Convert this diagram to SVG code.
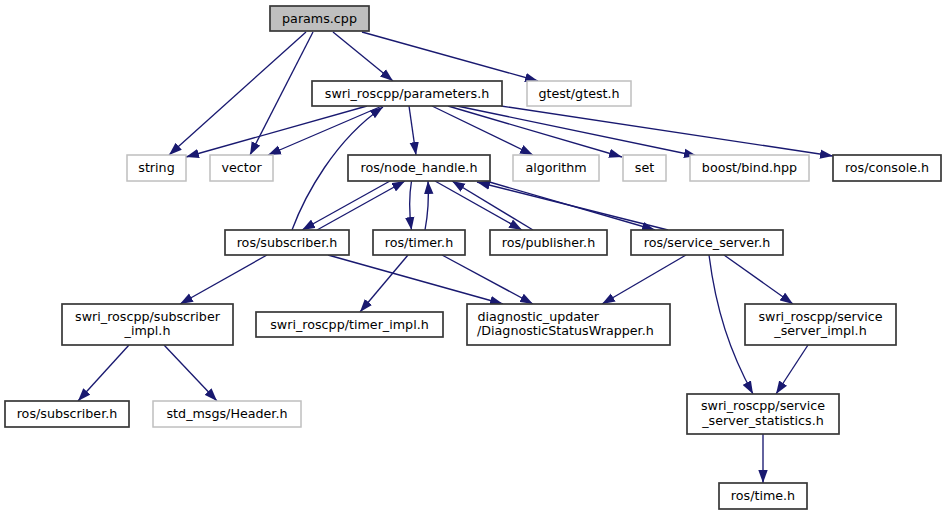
<svg xmlns="http://www.w3.org/2000/svg" width="947" height="515" viewBox="0 0 947 515">
<style>
.n rect{fill:#fff;stroke:#383838;stroke-width:1.7}
.g rect{fill:#fff;stroke:#bfbfbf;stroke-width:1.5}
.r rect{fill:#bfbfbf;stroke:#383838;stroke-width:1.7}
text{font-family:"DejaVu Sans","Liberation Sans",sans-serif;font-size:12.7px;fill:#000;text-anchor:middle}
.e path{fill:none;stroke:#191970;stroke-width:1.35;marker-end:url(#a)}
</style>
<defs>
<marker id="a" markerUnits="userSpaceOnUse" markerWidth="13" markerHeight="10" viewBox="0 0 13 10" refX="13" refY="5" orient="auto">
<path d="M0,0.3 L13,5 L0,9.7 z" fill="#191970"/>
</marker>
</defs>
<rect width="947" height="515" fill="#fff"/>
<g class="e" id="edges">
<path d="M306,32 L169,155"/>
<path d="M313,32 L250,155"/>
<path d="M333,32 L393,81"/>
<path d="M362,32 L538,81"/>
<path d="M367,106 L186,157"/>
<path d="M382,106 L268,155"/>
<path d="M292,230 C305,195 335,140 383,107"/>
<path d="M409,106 L416,155"/>
<path d="M432,106 L533,155"/>
<path d="M448,106 L622,157"/>
<path d="M457,106 L697,156"/>
<path d="M501,106 L833,156"/>
<path d="M390,181 L302,230"/>
<path d="M317,230 L405,181"/>
<path d="M411.5,181 C409,196 409,212 411.5,230"/>
<path d="M425,230 C428,214 429,198 428,181"/>
<path d="M435,181 L522,230"/>
<path d="M533,230 L452,181"/>
<path d="M486,181 L655,230"/>
<path d="M668,230 L477,182"/>
<path d="M267,255 L180,304"/>
<path d="M328,255 L503,304"/>
<path d="M408,255 L360,312"/>
<path d="M442,255 L533,304"/>
<path d="M686,255 L602,304"/>
<path d="M709,255 C716,310 730,352 753,394"/>
<path d="M724,255 L793,304"/>
<path d="M808,345 L776,394"/>
<path d="M763,434 L763,483"/>
<path d="M129,345 L78,401"/>
<path d="M164,345 L217,401"/>
</g>
<g id="params_cpp" class="r"><rect x="270" y="6" width="99" height="25"/><text x="319.5" y="22.5">params.cpp</text></g>
<g id="parameters_h" class="n"><rect x="312" y="81" width="190" height="25"/><text x="407" y="97.5">swri_roscpp/parameters.h</text></g>
<g id="gtest_h" class="g"><rect x="527" y="81" width="104" height="25"/><text x="579" y="97.5">gtest/gtest.h</text></g>
<g id="string" class="g"><rect x="127" y="155" width="59" height="26"/><text x="156.5" y="171.5">string</text></g>
<g id="vector" class="g"><rect x="210" y="155" width="63" height="26"/><text x="241.5" y="171.5">vector</text></g>
<g id="node_handle_h" class="n"><rect x="348" y="155" width="142" height="26"/><text x="419" y="171.5">ros/node_handle.h</text></g>
<g id="algorithm" class="g"><rect x="513" y="155" width="86" height="26"/><text x="556" y="171.5">algorithm</text></g>
<g id="set" class="g"><rect x="623" y="155" width="43" height="26"/><text x="644.5" y="171.5">set</text></g>
<g id="bind_hpp" class="g"><rect x="690" y="155" width="119" height="26"/><text x="749.5" y="171.5">boost/bind.hpp</text></g>
<g id="console_h" class="n"><rect x="833" y="155" width="108" height="26"/><text x="887" y="171.5">ros/console.h</text></g>
<g id="subscriber_h" class="n"><rect x="225" y="230" width="124" height="25"/><text x="287" y="246.5">ros/subscriber.h</text></g>
<g id="timer_h" class="n"><rect x="373" y="230" width="92" height="25"/><text x="419" y="246.5">ros/timer.h</text></g>
<g id="publisher_h" class="n"><rect x="490" y="230" width="117" height="25"/><text x="548.5" y="246.5">ros/publisher.h</text></g>
<g id="service_server_h" class="n"><rect x="631" y="230" width="152" height="25"/><text x="707" y="246.5">ros/service_server.h</text></g>
<g id="subscriber_impl_h" class="n"><rect x="62" y="304" width="171" height="41"/><text x="147.5" y="320.5">swri_roscpp/subscriber</text><text x="147.5" y="335">_impl.h</text></g>
<g id="timer_impl_h" class="n"><rect x="256" y="312" width="187" height="25"/><text x="349.5" y="328.5">swri_roscpp/timer_impl.h</text></g>
<g id="diag_h" class="n"><rect x="467" y="304" width="203" height="41"/><text x="477.5" y="320.5" style="text-anchor:start">diagnostic_updater</text><text x="477" y="335" style="text-anchor:start">/DiagnosticStatusWrapper.h</text></g>
<g id="service_server_impl_h" class="n"><rect x="745" y="304" width="151" height="41"/><text x="820.5" y="320.5">swri_roscpp/service</text><text x="820.5" y="335">_server_impl.h</text></g>
<g id="subscriber_h2" class="n"><rect x="5" y="401" width="124" height="26"/><text x="67" y="417.5">ros/subscriber.h</text></g>
<g id="header_h" class="g"><rect x="153" y="401" width="148" height="26"/><text x="227" y="417.5">std_msgs/Header.h</text></g>
<g id="stats_h" class="n"><rect x="687" y="394" width="152" height="40"/><text x="763" y="410">swri_roscpp/service</text><text x="763" y="424.5">_server_statistics.h</text></g>
<g id="time_h" class="n"><rect x="719" y="483" width="88" height="26"/><text x="763" y="499.5">ros/time.h</text></g>
</svg>
